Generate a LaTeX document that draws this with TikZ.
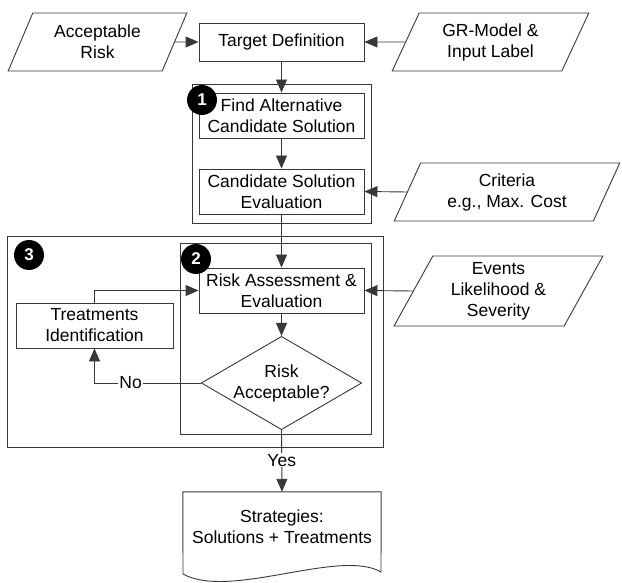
\documentclass[tikz,border=0pt]{standalone}
\usepackage{fontspec}
\setmainfont{Liberation Sans}
\usetikzlibrary{shapes.geometric,arrows.meta}
\begin{document}
\begin{tikzpicture}[x=1pt,y=-1pt,
  font=\fontsize{17.5}{21}\selectfont,
  ln/.style={draw=black!78, line width=0.9pt},
  arr/.style={ln, -{Triangle[length=13pt,width=11pt]}},
  box/.style={ln, rectangle, inner sep=0pt, align=center, minimum width=165pt, minimum height=45pt},
  para/.style={ln, trapezium, trapezium left angle=64, trapezium right angle=116,
    trapezium stretches=true, inner sep=0pt, align=center},
  grp/.style={ln, rectangle, inner sep=0pt},
  numc/.style={circle, fill=black, text=white, font=\fontsize{17}{17}\selectfont\bfseries,
    minimum size=30pt, inner sep=0pt},
  lbl/.style={fill=white, inner sep=1pt}]
\useasboundingbox (0,0) rectangle (622,583);

% group frames
\node[grp, minimum width=179pt, minimum height=139pt] (g1) at (281.5,153.5) {};
\node[grp, minimum width=376pt, minimum height=211pt] (g3) at (195,341.5) {};
\node[grp, minimum width=191pt, minimum height=191pt] (g2) at (275.5,338.5) {};

% top row
\node[para, minimum width=179pt, minimum height=58pt] (ar) at (97.5,42) {Acceptable\\Risk};
\node[box, minimum height=38pt] (td) at (281.5,42) {Target Definition};
\node[para, minimum width=197pt, minimum height=58pt] (gr) at (490.5,42) {GR-Model \&\\Input Label};

% loop 1
\node[box] (fa) at (281.5,115.5) {Find Alternative\\Candidate Solution};
\node[box] (cs) at (281.5,191.5) {Candidate Solution\\Evaluation};
\node[para, minimum width=226pt, minimum height=58pt] (cr) at (507,192) {Criteria\\e.g., Max. Cost};

% loop 2/3
\node[box] (ra) at (281.5,290.5) {Risk Assessment \&\\Evaluation};
\node[para, minimum width=209pt, minimum height=70pt] (ev) at (498.5,291) {Events\\Likelihood \&\\Severity};
\node[box, minimum width=157pt] (ti) at (94.5,325.5) {Treatments\\Identification};
\node[ln, diamond, aspect=1.72, inner sep=0pt, minimum width=160pt, minimum height=93pt, align=center] (dm) at (281.5,383) {Risk\\Acceptable?};

% output document
\node[inner sep=0pt, minimum width=198pt, minimum height=70pt, align=center] (st) at (282,527) {Strategies:\\Solutions + Treatments};
\draw[ln] (st.north west) -- (st.north east) -- (381,572)
  .. controls (340,548) and (230,600) .. (183,574) -- cycle;

% numbered markers
\node[numc] (n1) at (202,100) {1};
\node[numc] (n2) at (196,259) {2};
\node[numc] (n3) at (29,255) {3};

% connectors
\draw[arr] (ar.east) -- (td.west);
\draw[arr] (gr.west) -- (td.east);
\draw[arr] (td.south) -- (fa.north);
\draw[arr] (fa.south) -- (cs.north);
\draw[arr] (cr.west) -- (cs.east);
\draw[arr] (cs.south) -- (ra.north);
\draw[arr] (ev.west) -- (ra.east);
\draw[arr] (ti.north) |- (ra.west);
\draw[arr] (ra.south) -- (dm.north);
\draw[arr] (dm.west) -| node[lbl, pos=0.33] {No} (ti.south);
\draw[arr] (dm.south) -- node[lbl, pos=0.49] {Yes} (st.north);
\end{tikzpicture}
\end{document}
